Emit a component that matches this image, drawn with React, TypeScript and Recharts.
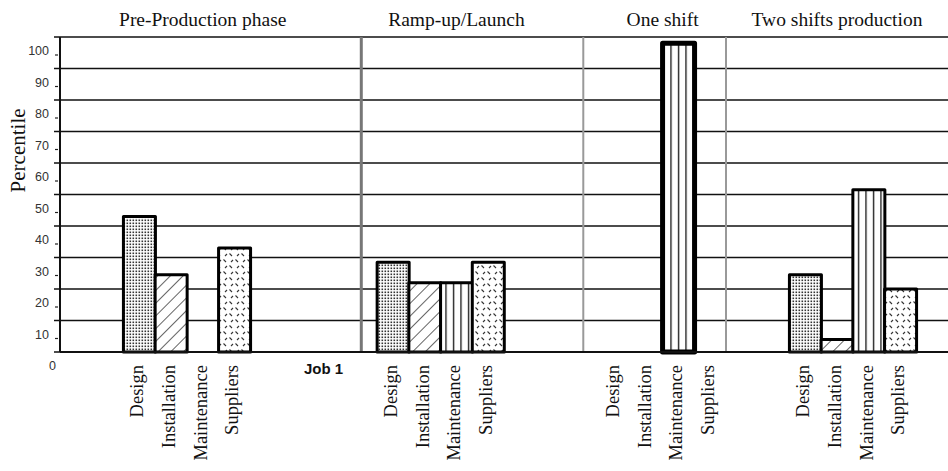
import { BarChart, Bar, XAxis, YAxis, CartesianGrid, ReferenceLine, Cell } from "recharts";

// chart values
const phases = ["Pre-Production phase", "Ramp-up/Launch", "One shift", "Two shifts production"];
const categories = ["Design", "Installation", "Maintenance", "Suppliers"];
const preProduction = [43, 24.5, 0, 33];
const rampUp = [28.5, 22, 22, 28.5];
const oneShift = [0, 0, 98, 0];
const twoShifts = [24.5, 4, 51.5, 20];
const milestone = "Job 1";
const yTicks = [0, 10, 20, 30, 40, 50, 60, 70, 80, 90, 100];

const phaseValues = [preProduction, rampUp, oneShift, twoShifts];

// empty slots before each phase group, and after the last one
const gapsBefore = [2, 4, 3, 2];
const trailingGap = 1;
const phaseStroke = [3, 3, 5, 3];
const titleOffset = [2, 2, 1, 1]; // slot inside the group that carries the title
const titleShift = [0, 0, 1, 0]; // extra half-band shift

type Row = {
  slot: string;
  label: string;
  value: number | null;
  cat: number | null;
  phase: number | null;
  title: string;
};

const rows: Row[] = [];
const pushSpacer = (label = "") => {
  rows.push({ slot: `s${rows.length}`, label, value: null, cat: null, phase: null, title: "" });
};

phaseValues.forEach((vals, p) => {
  for (let g = 0; g < gapsBefore[p]; g++) {
    // milestone sits two slots into the gap before ramp-up
    pushSpacer(p === 1 && g === 2 ? milestone : "");
  }
  vals.forEach((v, c) => {
    rows.push({
      slot: `s${rows.length}`,
      label: categories[c],
      value: v,
      cat: c,
      phase: p,
      title: c === titleOffset[p] ? phases[p] : "",
    });
  });
});
for (let g = 0; g < trailingGap; g++) pushSpacer();

const firstOf = (p: number) => rows.findIndex((r) => r.phase === p);
const jobSlot = rows[firstOf(1) - 1].slot;
const oneShiftSep = rows[firstOf(2) - 1].slot;
const twoShiftSep = rows[firstOf(2) + categories.length - 1].slot;

const serif = "'Liberation Serif', 'Times New Roman', serif";
const sans = "'Liberation Sans', Arial, sans-serif";

function CategoryTick(props: any) {
  const { x, y, payload } = props;
  const row = rows.find((r) => r.slot === payload.value);
  if (!row || !row.label) return null;
  if (row.cat === null) {
    return (
      <text x={x - 6} y={y + 14} textAnchor="middle" fontFamily={sans} fontWeight="bold" fontSize={15} fill="#111">
        {row.label}
      </text>
    );
  }
  return (
    <text
      x={x - 2}
      y={y + 5}
      transform={`rotate(-90, ${x - 2}, ${y + 5})`}
      textAnchor="end"
      dominantBaseline="central"
      fontFamily={serif}
      fontSize={18.5}
      fill="#111"
    >
      {row.label}
    </text>
  );
}

function TitleTick(props: any) {
  const { x, payload } = props;
  const row = rows.find((r) => r.slot === payload.value);
  if (!row || !row.title) return null;
  const shift = row.phase !== null ? titleShift[row.phase] * (payload.offset ?? 16) : 0;
  return (
    <text x={x + shift} y={26} textAnchor="middle" fontFamily={serif} fontSize={19.5} fill="#111">
      {row.title}
    </text>
  );
}

function PercentTick(props: any) {
  const { y, payload } = props;
  return (
    <g>
      <text
        x={payload.value === 0 ? 56 : 49}
        y={y + 14}
        textAnchor="end"
        dominantBaseline="central"
        fontFamily={sans}
        fontSize={12.5}
        fill="#333"
      >
        {payload.value}
      </text>
      {payload.value !== 0 && <line x1={55} x2={58} y1={y + 18} y2={y + 18} stroke="#222" strokeWidth={1.2} />}
    </g>
  );
}

export default function App() {
  return (
    <div style={{ position: "absolute", left: 0, top: 0, background: "#fff" }}>
      <BarChart
        width={948}
        height={471}
        data={rows}
        margin={{ top: 0, right: 0, left: 0, bottom: 0 }}
        barCategoryGap={0}
        barGap={0}
      >
        <defs>
          <pattern id="pat-0" width={3} height={3} patternUnits="userSpaceOnUse">
            <rect width={3} height={3} fill="#fff" />
            <rect x={0.5} y={0.5} width={1.6} height={1.6} fill="#333" />
          </pattern>
          <pattern id="pat-1" width={9} height={9} patternUnits="userSpaceOnUse" patternTransform="rotate(45)">
            <rect width={9} height={9} fill="#fff" />
            <line x1={0} y1={0} x2={0} y2={9} stroke="#111" strokeWidth={1.3} />
          </pattern>
          <pattern id="pat-2" width={7.5} height={10} patternUnits="userSpaceOnUse">
            <rect width={7.5} height={10} fill="#fff" />
            <line x1={3.5} y1={0} x2={3.5} y2={10} stroke="#111" strokeWidth={1.3} />
          </pattern>
          <pattern id="pat-3" width={12} height={12} patternUnits="userSpaceOnUse">
            <rect width={12} height={12} fill="#fff" />
            <line x1={1.5} y1={1.5} x2={4} y2={4} stroke="#333" strokeWidth={1.1} />
            <line x1={9} y1={4} x2={11} y2={2} stroke="#333" strokeWidth={1.1} />
            <line x1={7.5} y1={7.5} x2={10} y2={10} stroke="#333" strokeWidth={1.1} />
            <line x1={3} y1={10} x2={5} y2={8} stroke="#333" strokeWidth={1.1} />
          </pattern>
        </defs>
        <CartesianGrid vertical={false} stroke="#111" strokeWidth={1.5} />
        <XAxis
          dataKey="slot"
          interval={0}
          height={119}
          tickLine={false}
          axisLine={{ stroke: "#111", strokeWidth: 2 }}
          tick={<CategoryTick />}
        />
        <XAxis
          xAxisId="top"
          orientation="top"
          dataKey="slot"
          interval={0}
          height={37}
          tickLine={false}
          axisLine={false}
          tick={<TitleTick />}
        />
        <YAxis
          width={60}
          domain={[0, 100]}
          ticks={yTicks}
          interval={0}
          tickSize={6}
          tickLine={{ stroke: "#111", strokeWidth: 1.5 }}
          axisLine={{ stroke: "#111", strokeWidth: 2 }}
          tick={<PercentTick />}
          label={{
            content: (lp: any) => {
              const vb = lp.viewBox || { x: 0, y: 0, height: 315 };
              const cy = vb.y + vb.height * 0.36;
              return (
                <text
                  x={18}
                  y={cy}
                  transform={`rotate(-90, 18, ${cy})`}
                  textAnchor="middle"
                  dominantBaseline="central"
                  fontFamily={serif}
                  fontSize={21}
                  fill="#111"
                >
                  Percentile
                </text>
              );
            },
          }}
        />
        <ReferenceLine x={jobSlot} stroke="#777" strokeWidth={3} />
        <ReferenceLine x={oneShiftSep} stroke="#999" strokeWidth={2} />
        <ReferenceLine x={twoShiftSep} position="end" stroke="#999" strokeWidth={2} />
        <Bar dataKey="value" isAnimationActive={false}>
          {rows.map((r) => (
            <Cell
              key={r.slot}
              fill={r.cat === null ? "none" : `url(#pat-${r.cat})`}
              stroke="#000"
              strokeWidth={r.phase === null ? 0 : phaseStroke[r.phase]}
              strokeLinejoin="round"
            />
          ))}
        </Bar>
      </BarChart>
    </div>
  );
}
